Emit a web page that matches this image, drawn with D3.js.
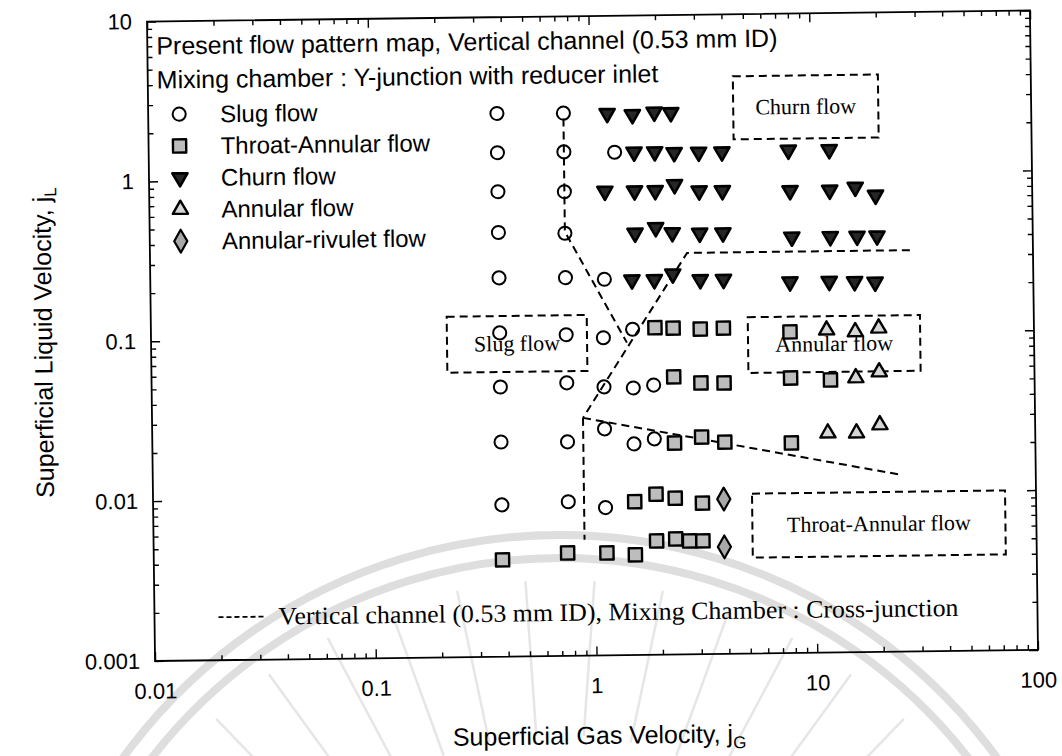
<!DOCTYPE html>
<html>
<head>
<meta charset="utf-8">
<script src="https://cdn.jsdelivr.net/npm/d3@7"></script>
<style>
  body { margin: 0; background: #fff; }
  svg { display: block; }
</style>
</head>
<body>
<svg id="chart" width="1062" height="756"></svg>
<script>
// ---- axis set-up -------------------------------------------------------
const xDomain = [0.01, 100];
const yDomain = [0.001, 10];
const xTickValues = [0.01, 0.1, 1, 10, 100];
const xTickLabels = ["0.01", "0.1", "1", "10", "100"];
const yTickValues = [0.001, 0.01, 0.1, 1, 10];
const yTickLabels = ["0.001", "0.01", "0.1", "1", "10"];

// ---- measured flow patterns: [jG, jL] ----------------------------------
const slugFlow = [
  [0.38, 2.50], [0.76, 2.48],
  [0.38, 1.42], [0.76, 1.42], [1.29, 1.40],
  [0.38, 0.81], [0.76, 0.80],
  [0.38, 0.45], [0.76, 0.44],
  [0.38, 0.234], [0.76, 0.232], [1.14, 0.225],
  [0.38, 0.106], [0.76, 0.102], [1.12, 0.097], [1.52, 0.109],
  [0.38, 0.0486], [0.76, 0.051], [1.12, 0.0478], [1.52, 0.0468], [1.88, 0.0486],
  [0.38, 0.0220], [0.76, 0.0218], [1.12, 0.0261], [1.52, 0.0209], [1.88, 0.0224],
  [0.38, 0.0089], [0.76, 0.0092], [1.12, 0.0084]
];
const throatAnnularFlow = [
  [1.92, 0.111], [2.32, 0.110], [3.08, 0.108], [3.92, 0.109], [7.85, 0.102],
  [2.32, 0.0545], [3.08, 0.0497], [3.92, 0.0495], [7.85, 0.0525], [11.9, 0.0507],
  [2.32, 0.0210], [3.08, 0.0228], [3.92, 0.0211], [7.85, 0.0206],
  [1.52, 0.0091], [1.90, 0.0101], [2.32, 0.0095], [3.08, 0.0088],
  [0.38, 0.00403], [0.75, 0.0044], [1.13, 0.00437], [1.52, 0.00423],
  [1.90, 0.00515], [2.32, 0.00528], [2.68, 0.00512], [3.08, 0.00511]
];
const churnFlow = [
  [1.20, 2.45], [1.56, 2.40], [1.96, 2.48], [2.33, 2.45],
  [1.58, 1.40], [1.96, 1.40], [2.40, 1.38], [3.10, 1.38], [3.95, 1.38], [7.9, 1.40], [12.1, 1.40],
  [1.16, 0.80], [1.58, 0.80], [1.96, 0.80], [2.40, 0.87], [3.10, 0.79], [3.95, 0.79],
  [8.0, 0.78], [12.1, 0.78], [15.8, 0.81], [19.5, 0.72],
  [1.58, 0.435], [1.96, 0.47], [2.33, 0.435], [3.10, 0.43], [3.95, 0.43],
  [8.1, 0.40], [12.1, 0.40], [16.0, 0.40], [19.7, 0.40],
  [1.52, 0.222], [1.92, 0.222], [2.33, 0.24], [3.10, 0.22], [3.95, 0.22],
  [7.9, 0.21], [11.9, 0.21], [15.5, 0.208], [19.2, 0.206]
];
const annularFlow = [
  [11.5, 0.104], [15.5, 0.101], [19.8, 0.106],
  [15.5, 0.052], [19.8, 0.0564],
  [11.5, 0.0236], [15.5, 0.0235], [19.8, 0.0263]
];
const annularRivuletFlow = [
  [3.85, 0.0093], [3.85, 0.00467]
];

// ---- transition lines, cross-junction mixing chamber -------------------
const boundarySlugChurn = [[0.76, 2.3], [0.76, 0.45], [1.43, 0.09]];
const boundaryChurnAnnular = [[27.7, 0.324], [2.71, 0.324], [0.896, 0.0307]];
const boundarySlugThroat = [[0.896, 0.0307], [0.896, 0.0053]];
const boundaryThroatAnnular = [[0.896, 0.0307], [25.0, 0.0127]];

// ---- regime annotation boxes: [jG0, jG1, jL0, jL1] ---------------------
const regionNames = ["Churn flow", "Slug flow", "Annular flow", "Throat-Annular flow"];
const regionExtents = [
  [4.47, 20.3, 1.65, 4.09],
  [0.219, 0.944, 0.0603, 0.135],
  [5.06, 30.5, 0.0569, 0.127],
  [5.17, 72.4, 0.00398, 0.0100]
];

const legendNames = ["Slug flow", "Throat-Annular flow", "Churn flow", "Annular flow", "Annular-rivulet flow"];
const titleLines = [
  "Present flow pattern map, Vertical channel (0.53 mm ID)",
  "Mixing chamber : Y-junction with reducer inlet"
];
const lineLegendText = "Vertical channel (0.53 mm ID), Mixing Chamber : Cross-junction";

// ---- layout ------------------------------------------------------------
const margin = { top: 16, right: 28, bottom: 100.5, left: 151 };
const width = 1062, height = 756;
const plotW = width - margin.left - margin.right;
const plotH = height - margin.top - margin.bottom;

const sans = "'Liberation Sans', Arial, sans-serif";
const serif = "'Liberation Serif', 'Times New Roman', serif";

const svg = d3.select("#chart");

// faint seal printed behind the figure: two rings and a fan of rays
const seal = svg.append("g").attr("transform", "translate(560,1075)")
  .attr("fill", "none").attr("stroke", "#dedede");
[540, 517].forEach(r => {
  seal.append("path").attr("stroke-width", 8)
    .attr("d", d3.arc().innerRadius(r).outerRadius(r).startAngle(-Math.PI / 2.6).endAngle(Math.PI / 2.6)());
});
d3.range(-44, 45, 8).forEach(deg => {
  const a = deg * Math.PI / 180;
  seal.append("line").attr("stroke-width", 2.5).attr("stroke", "#e6e6e6")
    .attr("x1", 340 * Math.sin(a)).attr("y1", -340 * Math.cos(a))
    .attr("x2", 495 * Math.sin(a)).attr("y2", -495 * Math.cos(a));
});

// the printed sheet sits slightly tilted
const page = svg.append("g")
  .attr("transform", `rotate(-0.72, ${margin.left + plotW / 2}, ${margin.top + plotH / 2})`);
const g = page.append("g").attr("transform", `translate(${margin.left},${margin.top})`);

const x = d3.scaleLog().domain(xDomain).range([0, plotW]);
const y = d3.scaleLog().domain(yDomain).range([plotH, 0]);

const isDecade = v => Math.abs(Math.log10(v) - Math.round(Math.log10(v))) < 1e-9;
const xMinor = x.ticks().filter(v => !isDecade(v));
const yMinor = y.ticks().filter(v => !isDecade(v));

function styleAxis(sel) {
  sel.select(".domain").remove();
  sel.selectAll(".tick line").attr("stroke", "#000").attr("stroke-width", 1.4);
  sel.selectAll(".tick text").attr("fill", "#000").style("font-family", sans).style("font-size", "22px");
}

// bottom
g.append("g").attr("transform", `translate(0,${plotH})`)
  .call(d3.axisBottom(x).tickValues(xTickValues).tickFormat((d, i) => xTickLabels[i])
    .tickSize(-9).tickPadding(22))
  .call(styleAxis);
g.append("g").attr("transform", `translate(0,${plotH})`)
  .call(d3.axisBottom(x).tickValues(xMinor).tickFormat("").tickSize(-5))
  .call(styleAxis);
// top
g.append("g")
  .call(d3.axisTop(x).tickValues(xTickValues).tickFormat("").tickSize(-9))
  .call(styleAxis);
g.append("g")
  .call(d3.axisTop(x).tickValues(xMinor).tickFormat("").tickSize(-5))
  .call(styleAxis);
// left
g.append("g")
  .call(d3.axisLeft(y).tickValues(yTickValues).tickFormat((d, i) => yTickLabels[i])
    .tickSize(-9).tickPadding(15))
  .call(styleAxis);
g.append("g")
  .call(d3.axisLeft(y).tickValues(yMinor).tickFormat("").tickSize(-5))
  .call(styleAxis);
// right
g.append("g").attr("transform", `translate(${plotW},0)`)
  .call(d3.axisRight(y).tickValues(yTickValues).tickFormat("").tickSize(-9))
  .call(styleAxis);
g.append("g").attr("transform", `translate(${plotW},0)`)
  .call(d3.axisRight(y).tickValues(yMinor).tickFormat("").tickSize(-5))
  .call(styleAxis);

// frame
g.append("rect").attr("width", plotW).attr("height", plotH)
  .attr("fill", "none").attr("stroke", "#000").attr("stroke-width", 1.8);

// axis titles
const xt = page.append("text")
  .attr("x", margin.left + plotW / 2 + 2).attr("y", 744)
  .attr("text-anchor", "middle")
  .style("font-family", sans).style("font-size", "25px");
xt.append("tspan").text("Superficial Gas Velocity, j");
xt.append("tspan").attr("dy", 6).style("font-size", "17px").text("G");

const yt = page.append("text")
  .attr("transform", `translate(52, ${margin.top + plotH / 2}) rotate(-90)`)
  .attr("text-anchor", "middle")
  .style("font-family", sans).style("font-size", "25px");
yt.append("tspan").text("Superficial Liquid Velocity, j");
yt.append("tspan").attr("dy", 6).style("font-size", "17px").text("L");

// transition lines
const line = d3.line().x(d => x(d[0])).y(d => y(d[1]));
[boundarySlugChurn, boundaryChurnAnnular, boundarySlugThroat, boundaryThroatAnnular].forEach(b => {
  g.append("path").attr("d", line(b))
    .attr("fill", "none").attr("stroke", "#000").attr("stroke-width", 2)
    .attr("stroke-dasharray", "8,5");
});

// regime boxes
regionExtents.forEach((r, i) => {
  const x0 = x(r[0]), x1 = x(r[1]), y0 = y(r[3]), y1 = y(r[2]);
  g.append("rect").attr("x", x0).attr("y", y0).attr("width", x1 - x0).attr("height", y1 - y0)
    .attr("fill", "none").attr("stroke", "#000").attr("stroke-width", 2)
    .attr("stroke-dasharray", "8,5");
  g.append("text").attr("x", (x0 + x1) / 2).attr("y", (y0 + y1) / 2 + 7)
    .attr("text-anchor", "middle")
    .style("font-family", serif).style("font-size", "22px")
    .text(regionNames[i]);
});

// markers
const markerStyles = [
  { type: d3.symbolCircle, size: 135, fill: "none", sw: 2.0, rot: 0 },
  { type: d3.symbolSquare, size: 175, fill: "#bdbdbd", sw: 2.4, rot: 0 },
  { type: d3.symbolTriangle, size: 100, fill: "#262626", sw: 2.6, rot: 180 },
  { type: d3.symbolTriangle, size: 100, fill: "#d6d6d6", sw: 2.4, rot: 0 },
  { type: d3.symbolDiamond, size: 150, fill: "#a8a8a8", sw: 2.2, rot: 0 }
];
const seriesList = [slugFlow, throatAnnularFlow, churnFlow, annularFlow, annularRivuletFlow];

function drawMarker(sel, st) {
  sel.attr("d", d3.symbol().type(st.type).size(st.size)())
    .attr("fill", st.fill).attr("stroke", "#000").attr("stroke-width", st.sw)
    .attr("stroke-linejoin", "round");
}

seriesList.forEach((data, si) => {
  const st = markerStyles[si];
  g.append("g").selectAll("path").data(data).join("path")
    .attr("transform", d => `translate(${x(d[0])},${y(d[1])}) rotate(${st.rot})`)
    .call(drawMarker, st);
});

// title lines
titleLines.forEach((t, i) => {
  g.append("text").attr("x", 9).attr("y", 33 + i * 34)
    .style("font-family", sans).style("font-size", "25px").text(t);
});

// symbol legend
legendNames.forEach((name, i) => {
  const ly = 93 + i * 31.75;
  g.append("path")
    .attr("transform", `translate(31,${ly}) rotate(${markerStyles[i].rot})`)
    .call(drawMarker, markerStyles[i]);
  g.append("text").attr("x", 72).attr("y", ly + 8.5)
    .style("font-family", sans).style("font-size", "24px").text(name);
});

// line legend
g.append("line").attr("x1", 64).attr("x2", 112).attr("y1", plotH - 43).attr("y2", plotH - 43)
  .attr("stroke", "#000").attr("stroke-width", 1.8).attr("stroke-dasharray", "5,3");
g.append("text").attr("x", 124).attr("y", plotH - 35)
  .attr("textLength", 680).attr("lengthAdjust", "spacingAndGlyphs")
  .style("font-family", serif).style("font-size", "25px").text(lineLegendText);
</script>
</body>
</html>
